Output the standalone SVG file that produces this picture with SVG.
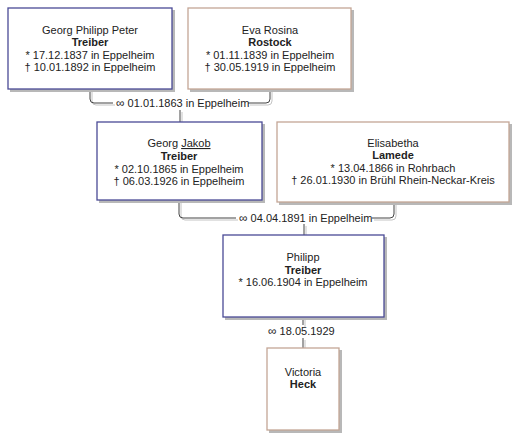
<svg xmlns="http://www.w3.org/2000/svg" width="524" height="446" viewBox="0 0 524 446">
<style>
.bg{fill:#ffffff}
.sh{fill:#b8b8b8}
.m{fill:#ffffff;stroke:#4a4a96;stroke-width:1.3}
.f{fill:#ffffff;stroke:#c4a696;stroke-width:1.3}
text{font-family:"Liberation Sans",Arial,sans-serif;font-size:11px;fill:#222;text-anchor:middle}
.b{font-weight:bold}
.u{text-decoration:underline}
.sym{font-size:12px}
.c{fill:none;stroke:#444;stroke-width:1}
.cs{fill:none;stroke:#c4c4c4;stroke-width:1}
.lbl{text-anchor:start}
</style>
<rect class="bg" x="0" y="0" width="524" height="446"/>
<g id="connectors">
  <g transform="translate(2,2)">
    <path class="cs" d="M90,89 V99 Q90,103 94,103 H113 M248,103 H266 Q270,103 270,99 V89 M180,110 V122"/>
    <path class="cs" d="M179,200 V214 Q179,218 183,218 H236 M372,218 H390 Q394,218 394,214 V202 M304,224 V235"/>
    <path class="cs" d="M303,317 V325 M303,338 V348"/>
  </g>
  <path class="c" d="M90,89 V99 Q90,103 94,103 H113 M248,103 H266 Q270,103 270,99 V89 M180,110 V122"/>
  <path class="c" d="M179,200 V214 Q179,218 183,218 H236 M372,218 H390 Q394,218 394,214 V202 M304,224 V235"/>
  <path class="c" d="M303,317 V325 M303,338 V348"/>
  <text class="lbl" x="116" y="107"><tspan class="sym">∞</tspan> 01.01.1863 in Eppelheim</text>
  <text class="lbl" x="239" y="222"><tspan class="sym">∞</tspan> 04.04.1891 in Eppelheim</text>
  <text class="lbl" x="268" y="335"><tspan class="sym">∞</tspan> 18.05.1929</text>
</g>
<g id="n1">
  <rect class="sh" x="10" y="10" width="165" height="82"/>
  <rect class="m" x="8" y="8" width="164" height="81"/>
  <text x="90" y="34">Georg Philipp Peter</text>
  <text x="90" y="46" class="b">Treiber</text>
  <text x="90" y="59">* 17.12.1837 in Eppelheim</text>
  <text x="90" y="71">† 10.01.1892 in Eppelheim</text>
</g>
<g id="n2">
  <rect class="sh" x="190" y="10" width="164" height="82"/>
  <rect class="f" x="188" y="8" width="163" height="81"/>
  <text x="270" y="34">Eva Rosina</text>
  <text x="270" y="46" class="b">Rostock</text>
  <text x="270" y="59">* 01.11.1839 in Eppelheim</text>
  <text x="270" y="71">† 30.05.1919 in Eppelheim</text>
</g>
<g id="n3">
  <rect class="sh" x="99" y="124" width="166" height="79"/>
  <rect class="m" x="97" y="122" width="165" height="78"/>
  <text x="179" y="147">Georg <tspan class="u">Jakob</tspan></text>
  <text x="179" y="160" class="b">Treiber</text>
  <text x="179" y="173">* 02.10.1865 in Eppelheim</text>
  <text x="179" y="185">† 06.03.1926 in Eppelheim</text>
</g>
<g id="n4">
  <rect class="sh" x="279" y="124" width="233" height="81"/>
  <rect class="f" x="277" y="122" width="232" height="80"/>
  <text x="393" y="147">Elisabetha</text>
  <text x="393" y="159" class="b">Lamede</text>
  <text x="393" y="172">* 13.04.1866 in Rohrbach</text>
  <text x="393" y="184">† 26.01.1930 in Brühl Rhein-Neckar-Kreis</text>
</g>
<g id="n5">
  <rect class="sh" x="225" y="237" width="162" height="83"/>
  <rect class="m" x="223" y="235" width="161" height="82"/>
  <text x="303" y="261">Philipp</text>
  <text x="303" y="274" class="b">Treiber</text>
  <text x="303" y="286">* 16.06.1904 in Eppelheim</text>
</g>
<g id="n6">
  <rect class="sh" x="269" y="350" width="73" height="83"/>
  <rect class="f" x="267" y="348" width="72" height="82"/>
  <text x="303" y="376">Victoria</text>
  <text x="303" y="388" class="b">Heck</text>
</g>
</svg>
